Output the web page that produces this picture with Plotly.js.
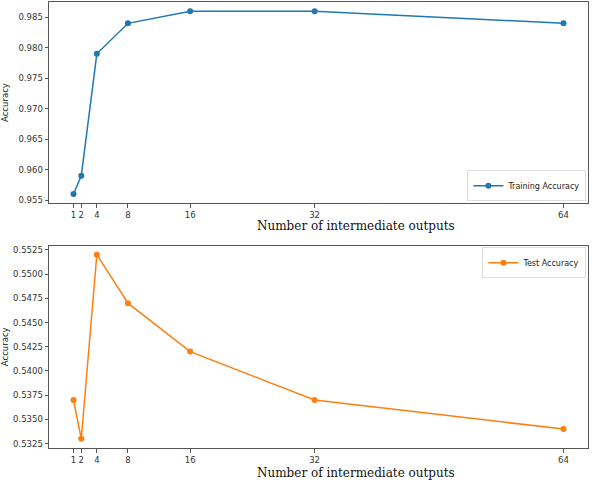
<!DOCTYPE html>
<html><head><meta charset="utf-8">
<script src="https://cdn.plot.ly/plotly-3.0.1.min.js"></script>
<style>html,body{margin:0;padding:0;background:#fff}#c{width:592px;height:482px}</style>
</head><body><div id="c"></div>
<script>
const outputs = [1, 2, 4, 8, 16, 32, 64];
const trainAcc = [0.956, 0.959, 0.979, 0.984, 0.986, 0.986, 0.984];
const testAcc = [0.537, 0.533, 0.552, 0.547, 0.542, 0.537, 0.534];
const xTickVals = [1, 2, 4, 8, 16, 32, 64];
const trainTicks = [0.955, 0.960, 0.965, 0.970, 0.975, 0.980, 0.985];
const testTicks = [0.5325, 0.5350, 0.5375, 0.5400, 0.5425, 0.5450, 0.5475, 0.5500, 0.5525];
const xTitle = 'Number of intermediate outputs';
const yTitle = 'Accuracy';

const tickFont = {family: 'DejaVu Sans', size: 8.5, color: '#333'};
function xax(anchor) {
  return {anchor: anchor, range: [-2.15, 67.15], tickvals: xTickVals, ticktext: xTickVals.map(String),
    ticks: 'outside', ticklen: 3.5, tickcolor: '#555', showgrid: false, zeroline: false,
    showline: true, mirror: true, linecolor: '#555', linewidth: 1, tickfont: tickFont};
}
function yax(anchor, range, ticks, fmt, standoff) {
  return {anchor: anchor, range: range, tickvals: ticks, ticktext: ticks.map(v => v.toFixed(fmt)),
    ticks: 'outside', ticklen: 3.5, tickcolor: '#555', showgrid: false, zeroline: false,
    showline: true, mirror: true, linecolor: '#555', linewidth: 1, tickfont: tickFont,
    title: {text: yTitle, font: {family: 'DejaVu Sans', size: 8.5, color: '#222'}, standoff: standoff}};
}
const data = [
  {x: outputs, y: trainAcc, xaxis: 'x', yaxis: 'y', mode: 'lines+markers', name: 'Training Accuracy',
   line: {color: '#1f77b4', width: 1.5}, marker: {color: '#1f77b4', size: 6}, legend: 'legend'},
  {x: outputs, y: testAcc, xaxis: 'x2', yaxis: 'y2', mode: 'lines+markers', name: 'Test Accuracy',
   line: {color: '#ff7f0e', width: 1.5}, marker: {color: '#ff7f0e', size: 6}, legend: 'legend2'}
];
const legStyle = {bgcolor: 'rgba(255,255,255,0.8)', bordercolor: '#ddd', borderwidth: 1,
  font: {family: 'DejaVu Sans', size: 8, color: '#222'}, tracegroupgap: 0, itemwidth: 30};
const layout = {
  width: 592, height: 482, margin: {l: 49, r: 4, t: 2, b: 34},
  paper_bgcolor: '#fff', plot_bgcolor: '#fff', showlegend: true,
  xaxis: Object.assign(xax('y'), {domain: [0, 1]}),
  yaxis: Object.assign(yax('x', [0.9545, 0.9875], trainTicks, 3, 10), {domain: [0.549, 1]}),
  xaxis2: Object.assign(xax('y2'), {domain: [0, 1]}),
  yaxis2: Object.assign(yax('x2', [0.53205, 0.55295], testTicks, 4, 6), {domain: [0, 0.454]}),
  legend: Object.assign({}, legStyle, {x: 0.997, y: 0.553, xanchor: 'right', yanchor: 'bottom'}),
  legend2: Object.assign({}, legStyle, {x: 0.997, y: 0.45, xanchor: 'right', yanchor: 'top'}),
  annotations: [
    {text: xTitle, xref: 'paper', yref: 'paper', x: 0.57, y: 0.497, xanchor: 'center', yanchor: 'middle', showarrow: false,
     font: {family: 'DejaVu Serif', size: 12, color: '#111'}},
    {text: xTitle, xref: 'paper', yref: 'paper', x: 0.57, y: -0.05, yshift: -3, xanchor: 'center', yanchor: 'middle', showarrow: false,
     font: {family: 'DejaVu Serif', size: 12, color: '#111'}}
  ]
};
Plotly.newPlot('c', data, layout, {displayModeBar: false, staticPlot: true});
</script></body></html>
